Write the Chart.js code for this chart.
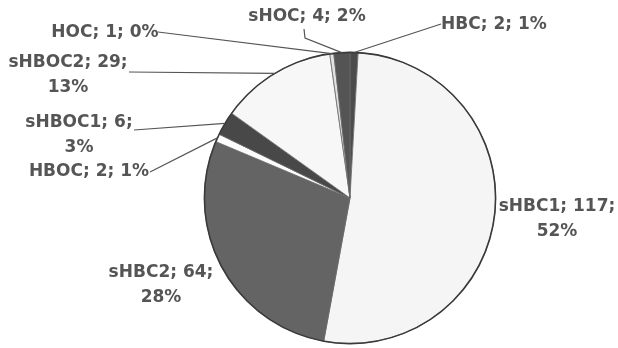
<!DOCTYPE html>
<html>
<head>
<meta charset="utf-8">
<script src="https://cdn.jsdelivr.net/npm/chart.js@4/dist/chart.umd.min.js"></script>
<style>
  html, body { margin: 0; padding: 0; background: #ffffff; }
  #wrap { width: 618px; height: 348px; position: relative; }
</style>
</head>
<body>
<div id="wrap"><canvas id="pie"></canvas></div>
<script>
// Patient groups, clockwise from 12 o'clock
const categories = ['HBC', 'sHBC1', 'sHBC2', 'HBOC', 'sHBOC1', 'sHBOC2', 'HOC', 'sHOC'];
const counts = [2, 117, 64, 2, 6, 29, 1, 4];

// Slice shades (greyscale print)
const sliceColors = ['#4b4b4b', '#f5f5f5', '#646464', '#fdfdfd', '#484848', '#f7f7f7', '#e2e2e2', '#545454'];

// Label placement: text centre, whether the percentage wraps to a second line,
// and the start of the leader line (with optional elbow)
const labelLayout = [
  { x: 494, y: 25,  wrap: false, from: [441, 24] },
  { x: 557, y: 207, wrap: true },
  { x: 161, y: 273, wrap: true },
  { x: 89,  y: 172, wrap: false, from: [150, 172] },
  { x: 79,  y: 123, wrap: true,  from: [134, 130] },
  { x: 68,  y: 63,  wrap: true,  from: [129, 72] },
  { x: 105, y: 33,  wrap: false, from: [158, 32] },
  { x: 307, y: 17,  wrap: false, from: [304, 29], elbow: [305, 38] }
];

const total = counts.reduce((a, b) => a + b, 0);

const pieLabels = {
  id: 'pieLabels',
  afterDatasetsDraw(chart) {
    const ctx = chart.ctx;
    const arcs = chart.getDatasetMeta(0).data;
    ctx.save();

    // dark outline round the pie
    const a0 = arcs[0];
    ctx.beginPath();
    ctx.arc(a0.x, a0.y, a0.outerRadius, 0, Math.PI * 2);
    ctx.strokeStyle = '#3a3a3a';
    ctx.lineWidth = 1.6;
    ctx.stroke();

    ctx.font = 'bold 17px "DejaVu Sans", sans-serif';
    ctx.fillStyle = '#555555';
    ctx.textAlign = 'center';
    ctx.textBaseline = 'middle';

    arcs.forEach((arc, i) => {
      const lay = labelLayout[i];
      const pct = Math.round(counts[i] / total * 100);
      const head = categories[i] + '; ' + counts[i] + ';';
      const tail = pct + '%';
      if (lay.wrap) {
        ctx.fillText(head, lay.x, lay.y);
        ctx.fillText(tail, lay.x, lay.y + 25);
      } else {
        ctx.fillText(head + ' ' + tail, lay.x, lay.y);
      }
      if (lay.from) {
        const mid = (arc.startAngle + arc.endAngle) / 2;
        const ex = arc.x + Math.cos(mid) * arc.outerRadius;
        const ey = arc.y + Math.sin(mid) * arc.outerRadius;
        ctx.beginPath();
        ctx.moveTo(lay.from[0], lay.from[1]);
        if (lay.elbow) ctx.lineTo(lay.elbow[0], lay.elbow[1]);
        ctx.lineTo(ex, ey);
        ctx.strokeStyle = '#555555';
        ctx.lineWidth = 1.2;
        ctx.stroke();
      }
    });
    ctx.restore();
  }
};

new Chart(document.getElementById('pie'), {
  type: 'pie',
  data: {
    labels: categories,
    datasets: [{
      data: counts,
      backgroundColor: sliceColors,
      borderColor: '#6a6a6a',
      borderWidth: 0.8
    }]
  },
  options: {
    responsive: true,
    maintainAspectRatio: false,
    animation: false,
    layout: { padding: { left: 204, right: 122, top: 52, bottom: 4 } },
    plugins: {
      legend: { display: false },
      tooltip: { enabled: false }
    }
  },
  plugins: [pieLabels]
});
</script>
</body>
</html>
